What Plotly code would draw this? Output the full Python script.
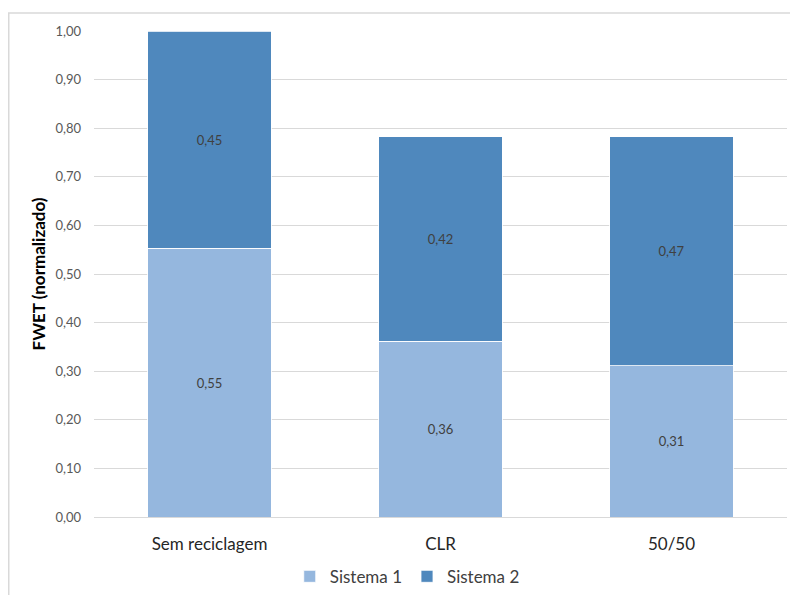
import plotly.graph_objects as go

categories = ["Sem reciclagem", "CLR", "50/50"]
sistema1 = [0.553, 0.362, 0.311]
sistema2 = [0.447, 0.420, 0.471]
tick_vals = [0.0, 0.1, 0.2, 0.3, 0.4, 0.5, 0.6, 0.7, 0.8, 0.9, 1.0]
tick_text = ["0,00", "0,10", "0,20", "0,30", "0,40", "0,50", "0,60", "0,70", "0,80", "0,90", "1,00"]

def fmt(v):
    return f"{v:.2f}".replace(".", ",")

FONT = "Lato, Carlito, Calibri, sans-serif"

fig = go.Figure()
fig.add_trace(go.Bar(
    name="Sistema 1", x=categories, y=sistema1,
    marker=dict(color="#95B7DE", line=dict(color="white", width=0.8)),
    text=[fmt(v) for v in sistema1], textposition="inside", insidetextanchor="middle",
    textfont=dict(color="#404040", size=13, family=FONT),
))
fig.add_trace(go.Bar(
    name="Sistema 2", x=categories, y=sistema2,
    marker=dict(color="#4F88BD", line=dict(color="white", width=0.8)),
    text=[fmt(v) for v in sistema2], textposition="inside", insidetextanchor="middle",
    textfont=dict(color="#404040", size=13, family=FONT),
))

fig.update_layout(
    width=790, height=595,
    barmode="stack", bargap=0.464,
    plot_bgcolor="white", paper_bgcolor="white",
    margin=dict(l=94, r=3, t=31, b=78, autoexpand=False),
    font=dict(family=FONT, color="#404040"),
    uniformtext=dict(mode="show", minsize=13),
    showlegend=True,
    legend=dict(orientation="h", x=0.452, xanchor="center", y=-0.123, yanchor="middle",
                font=dict(size=17, color="#404040", family=FONT), traceorder="normal",
                itemwidth=30, tracegroupgap=0),
    shapes=[dict(type="rect", xref="paper", yref="paper", x0=-0.123, x1=1.2, y0=-0.2,
                 y1=1.037, line=dict(color="#D9D9D9", width=1.5), fillcolor="rgba(0,0,0,0)",
                 layer="below")],
)
fig.update_yaxes(
    range=[0, 1.0], tickvals=tick_vals, ticktext=tick_text,
    showgrid=True, gridcolor="#D9D9D9", gridwidth=1, zeroline=False,
    showline=False, ticks="", ticklen=0, ticklabelstandoff=12, automargin=False,
    tickfont=dict(size=13, color="#595959", family=FONT),
    title=dict(text="<b>FWET (normalizado)</b>", font=dict(size=17, color="#000000", family=FONT),
               standoff=5),
)
fig.update_xaxes(
    showline=True, linecolor="#D9D9D9", linewidth=1, automargin=False,
    tickfont=dict(size=17, color="#262626", family=FONT),
    ticks="", ticklen=0, ticklabelstandoff=12,
)

fig.write_html("out.html")
